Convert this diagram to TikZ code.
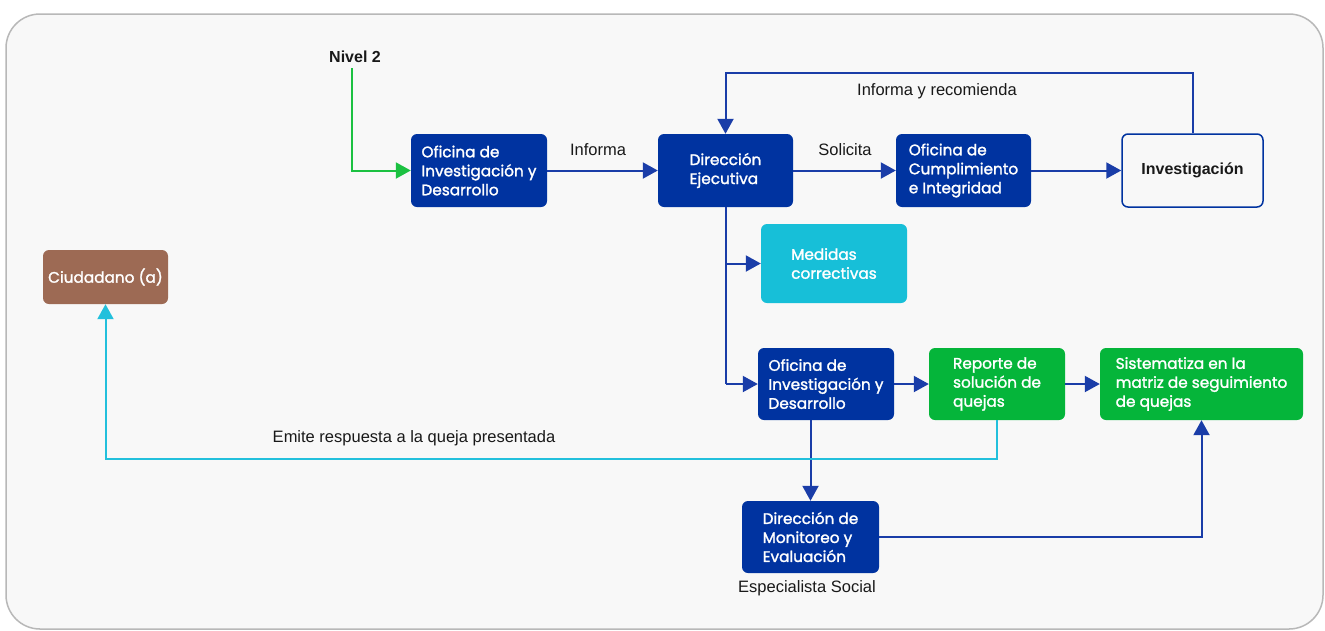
\documentclass[tikz,border=0pt]{standalone}
\usepackage{fontspec}
\setmainfont{Liberation Sans}
\newfontfamily\boxfont[FakeBold=1.6]{Poppins}
\usetikzlibrary{arrows.meta}
\definecolor{dblue}{HTML}{0033A0}
\definecolor{lblue}{HTML}{17BFD8}
\definecolor{grn}{HTML}{05B53A}
\definecolor{brn}{HTML}{9D6A54}
\definecolor{bgc}{HTML}{F8F8F8}
\definecolor{linec}{HTML}{1A3DA8}
\definecolor{cyanl}{HTML}{22C0DC}
\definecolor{greenl}{HTML}{1BC141}
\begin{document}
\begin{tikzpicture}[x=1pt,y=-1pt,
  box/.style={rounded corners=6pt, fill=dblue, text=white, font=\boxfont\fontsize{15.3}{19}\selectfont, align=left, inner sep=0pt},
  arr/.style={draw=linec, line width=2pt, -{Triangle[length=15pt,width=16pt]}},
  garr/.style={draw=greenl, line width=2pt, -{Triangle[length=15pt,width=16pt]}},
  carr/.style={draw=cyanl, line width=2pt, -{Triangle[length=15pt,width=16pt]}},
  trunk/.style={draw=linec, line width=2pt},
  lab/.style={font=\fontsize{16.5}{19}\selectfont, text=black!90, inner sep=0pt}]
\useasboundingbox (0,0) rectangle (1325,630);
\fill[white] (0,0) rectangle (1325,630);
\draw[fill=bgc, draw=black!28, line width=1.5pt, rounded corners=34pt] (6,14) rectangle (1323,629);

\node[lab, font=\bfseries\fontsize{16}{19}\selectfont] (n2) at (355,57) {Nivel 2};
\node[box, minimum width=136, minimum height=73] (oid1) at (479,170.5) {Oficina de\\Investigación y\\Desarrollo};
\node[box, minimum width=135, minimum height=73] (de) at (725.5,170.5) {Dirección\\Ejecutiva};
\node[box, minimum width=135, minimum height=73] (oci) at (963.5,170.5) {Oficina de\\Cumplimiento\\e Integridad};
\node[rounded corners=6pt, fill=bgc, draw=dblue, line width=1.5pt, minimum width=141, minimum height=73, font=\bfseries\fontsize{16}{19}\selectfont, text=black!90] (inv) at (1192.5,170.5) {Investigación};
\node[box, fill=lblue, minimum width=146, minimum height=79] (med) at (834,263.5) {Medidas\\correctivas};
\node[box, minimum width=136, minimum height=72] (oid2) at (826,384) {Oficina de\\Investigación y\\Desarrollo};
\node[box, fill=grn, minimum width=136, minimum height=72] (rep) at (997,384) {Reporte de\\solución de\\quejas};
\node[box, fill=grn, minimum width=203, minimum height=72] (sis) at (1201.5,384) {Sistematiza en la\\matriz de seguimiento\\de quejas};
\node[box, fill=brn, minimum width=125, minimum height=54] (ciu) at (105.5,277) {Ciudadano (a)};
\node[box, minimum width=137, minimum height=72] (dme) at (810.5,537) {Dirección de\\Monitoreo y\\Evaluación};

\node[lab] (l1) at (598,150) {Informa};
\node[lab] (l2) at (845,150) {Solicita};
\node[lab] (l3) at (937,91) {Informa y recomienda};
\node[lab] (l4) at (414,438) {Emite respuesta a la queja presentada};
\node[lab] (l5) at (807,588) {Especialista Social};

\draw[garr, shorten <=5pt] (n2.south) ++(-3,0) |- (oid1.west);
\draw[arr] (oid1) -- (de);
\draw[arr] (de) -- (oci);
\draw[arr] (oci) -- (inv);
\draw[arr] (inv.north) -- ++(0,-60) -| (de.north);
\draw[trunk] (de.south) -- (de.south |- oid2.west);
\draw[arr] (de.south |- med.west) -- (med.west);
\draw[arr] (de.south |- oid2.west) -- (oid2.west);
\draw[arr] (oid2) -- (rep);
\draw[arr] (rep) -- (sis);
\draw[arr] (oid2.south -| dme.north) -- (dme.north);
\draw[carr] (rep.south) -- ++(0,39) -| (ciu.south);
\draw[arr] (dme.east) -| (sis.south);
\end{tikzpicture}
\end{document}
